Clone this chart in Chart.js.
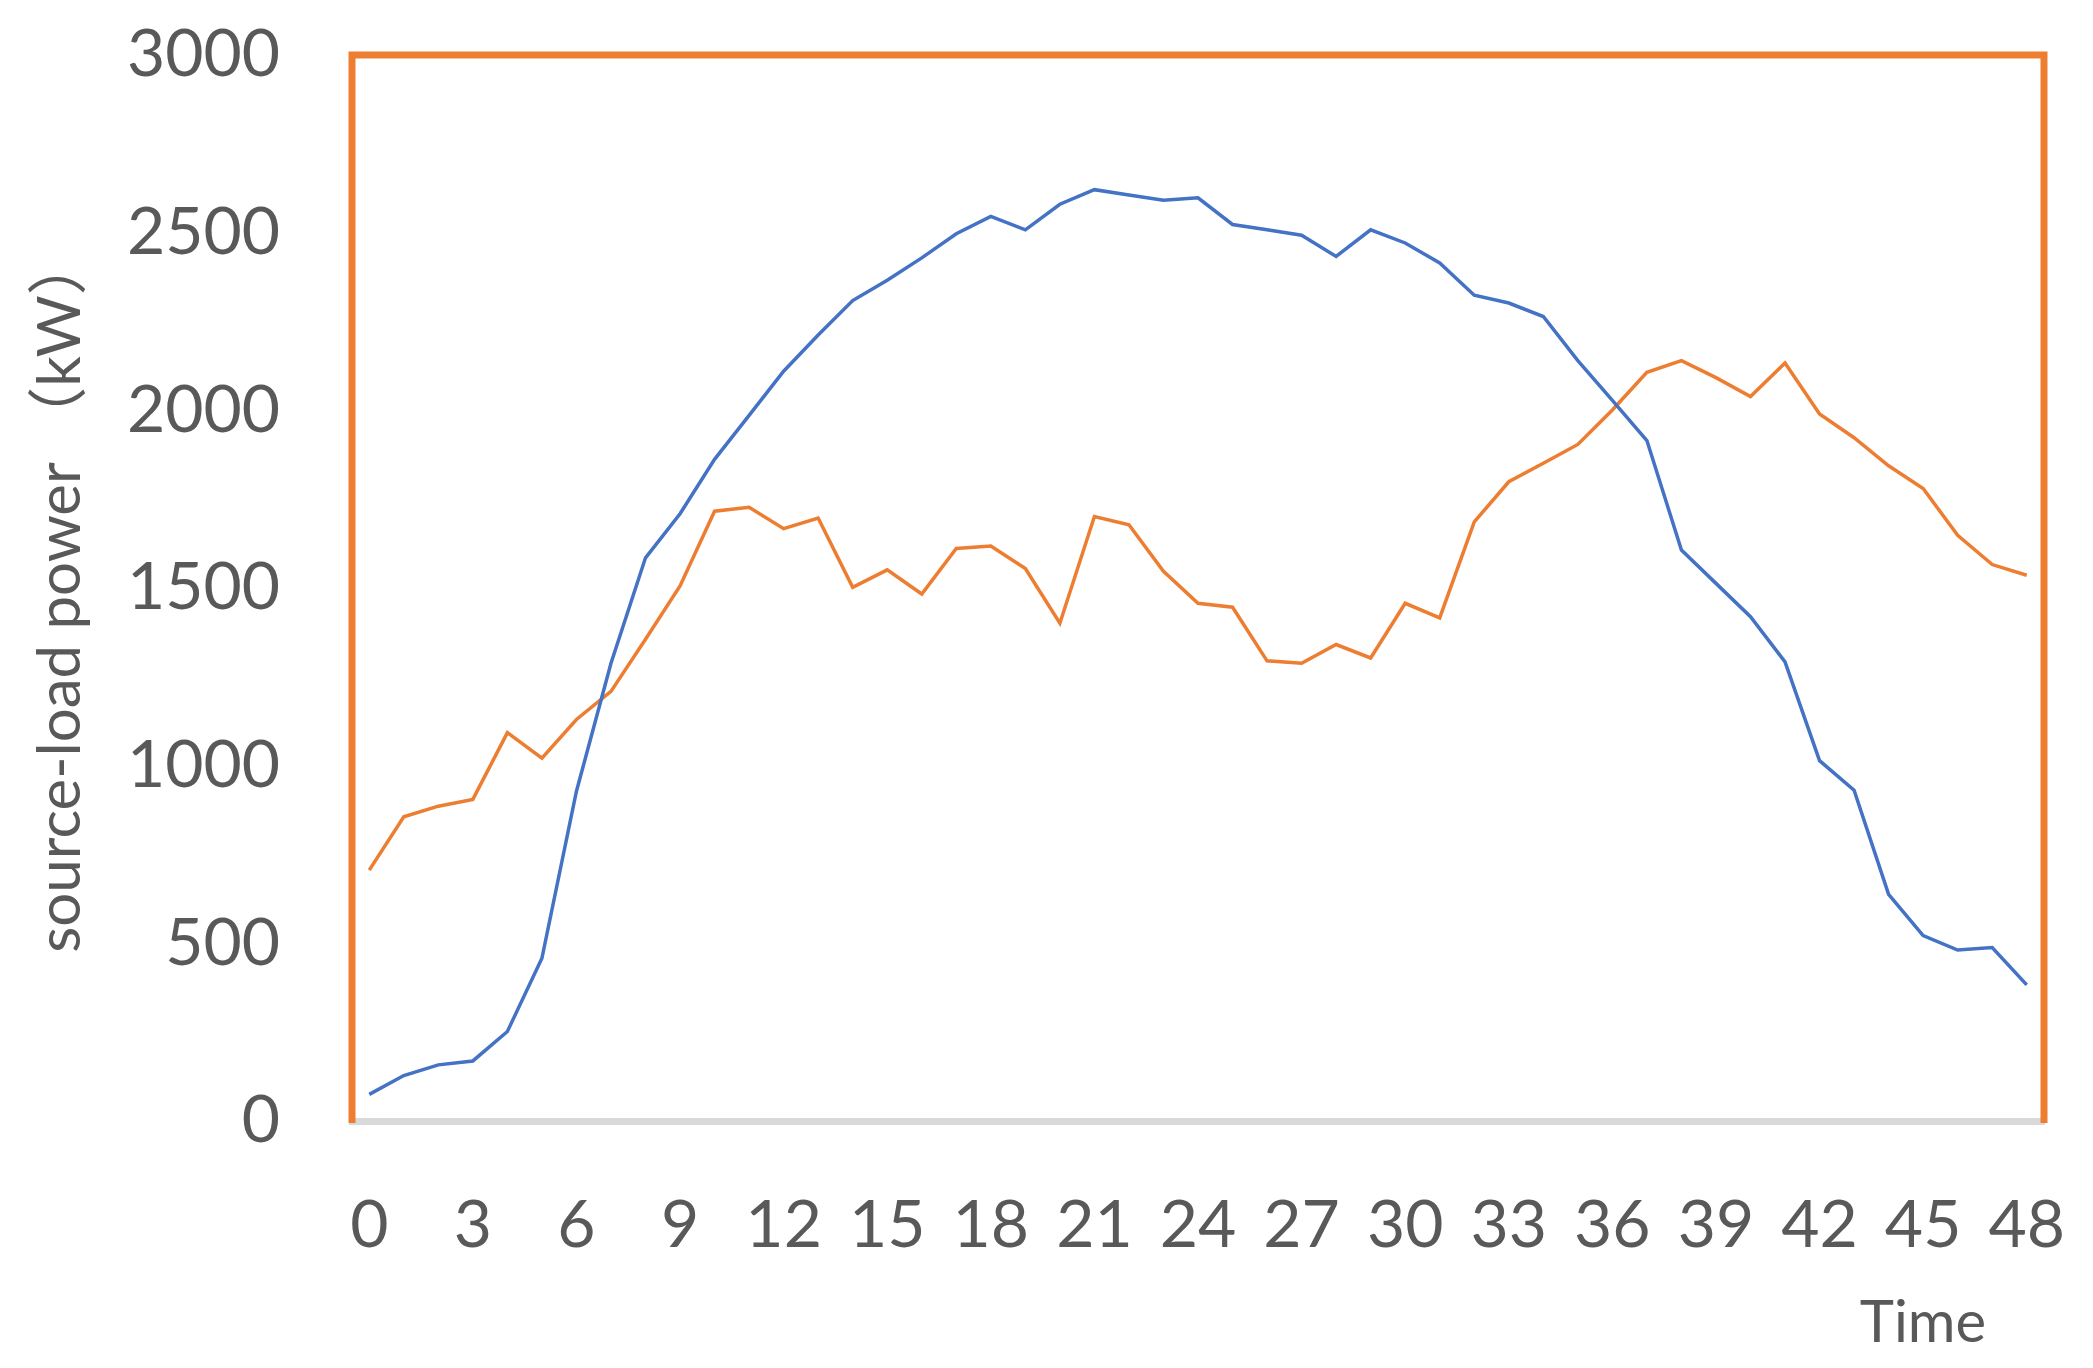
<!DOCTYPE html>
<html>
<head>
<meta charset="utf-8">
<script src="https://cdn.jsdelivr.net/npm/chart.js@4.4.1/dist/chart.umd.min.js"></script>
<style>
    html, body { margin: 0; padding: 0; background: #fff; }
    canvas { display: block; }
</style>
</head>
<body>
<canvas id="chart_power" width="2093" height="1368"></canvas>
<script>
// time steps 0..48
var timeLabels = ['0','1','2','3','4','5','6','7','8','9','10','11','12','13','14','15','16',
    '17','18','19','20','21','22','23','24','25','26','27','28','29','30','31','32','33',
    '34','35','36','37','38','39','40','41','42','43','44','45','46','47','48'];

// blue line
var sourcePower = [75, 128, 158, 169, 252, 458, 928, 1288, 1585, 1709, 1862, 1986, 2110, 2212,
    2309, 2366, 2429, 2497, 2546, 2508, 2580, 2621, 2606, 2591, 2598, 2523, 2508, 2493, 2433,
    2508, 2471, 2415, 2324, 2302, 2264, 2140, 2028, 1915, 1607, 1513, 1419, 1292, 1014, 931,
    638, 522, 481, 488, 383];

// orange line
var loadPower = [706, 856, 886, 905, 1093, 1021, 1130, 1209, 1356, 1506, 1716, 1727, 1667, 1697,
    1502, 1551, 1483, 1611, 1618, 1555, 1401, 1701, 1678, 1547, 1457, 1446, 1295, 1288, 1341,
    1303, 1457, 1416, 1686, 1799, 1851, 1904, 2001, 2107, 2140, 2092, 2039, 2133, 1990, 1923,
    1844, 1780, 1648, 1566, 1536];

var yTitle = 'source-load power （kW）';
var xTitle = 'Time';

var textColor = '#595959';
var fontFamily = "Lato, 'Noto Sans CJK SC', sans-serif";

// orange frame on left, top and right of the plot area
var plotFrame = {
    id: 'plotFrame',
    beforeDatasetsDraw: function (chart) {
        var a = chart.chartArea, ctx = chart.ctx;
        ctx.save();
        ctx.strokeStyle = '#ED7D31';
        ctx.lineWidth = 7;
        ctx.beginPath();
        ctx.moveTo(a.left, a.bottom + 2);
        ctx.lineTo(a.left, a.top);
        ctx.lineTo(a.right, a.top);
        ctx.lineTo(a.right, a.bottom + 2);
        ctx.stroke();
        ctx.restore();
    }
};

// axis titles
var axisTitles = {
    id: 'axisTitles',
    afterDraw: function (chart) {
        var ctx = chart.ctx;
        ctx.save();
        ctx.fillStyle = textColor;
        ctx.textAlign = 'center';
        ctx.textBaseline = 'alphabetic';
        ctx.font = '58px ' + fontFamily;
        ctx.fillText(xTitle, 1923, 1342);
        ctx.font = '60px ' + fontFamily;
        ctx.translate(80, 594);
        ctx.rotate(-Math.PI / 2);
        ctx.fillText(yTitle, 0, 0);
        ctx.restore();
    }
};

var ctx = document.getElementById('chart_power');
var lineChart = new Chart(ctx, {
    type: 'line',
    data: {
        labels: timeLabels,
        datasets: [
            {
                label: 'source',
                data: sourcePower,
                borderColor: '#4472C4',
                borderWidth: 3.5,
                pointRadius: 0,
                tension: 0,
                fill: false
            },
            {
                label: 'load',
                data: loadPower,
                borderColor: '#ED7D31',
                borderWidth: 3.5,
                pointRadius: 0,
                tension: 0,
                fill: false
            }
        ]
    },
    options: {
        responsive: false,
        animation: false,
        layout: {
            padding: { top: 55, right: 49, left: 0, bottom: 0 }
        },
        plugins: {
            legend: { display: false },
            tooltip: { enabled: false }
        },
        scales: {
            x: {
                type: 'category',
                offset: true,
                grid: { display: false, drawTicks: false },
                border: { display: true, color: '#D9D9D9', width: 7 },
                ticks: {
                    autoSkip: false,
                    maxRotation: 0,
                    minRotation: 0,
                    padding: 65,
                    color: textColor,
                    font: { family: fontFamily, size: 66 },
                    callback: function (val, i) {
                        return i % 3 === 0 ? timeLabels[i] : '';
                    }
                },
                afterFit: function (scale) {
                    scale.height = 1368 - 1121;
                    scale.paddingLeft = 0;
                    scale.paddingRight = 0;
                }
            },
            y: {
                min: 0,
                max: 3000,
                grid: { display: false, drawTicks: false },
                border: { display: false },
                ticks: {
                    stepSize: 500,
                    padding: 72,
                    color: textColor,
                    font: { family: fontFamily, size: 66 },
                    callback: function (val) { return String(val); }
                },
                afterFit: function (scale) {
                    scale.width = 352;
                    scale.paddingTop = 0;
                    scale.paddingBottom = 0;
                }
            }
        }
    },
    plugins: [plotFrame, axisTitles]
});
</script>
</body>
</html>
